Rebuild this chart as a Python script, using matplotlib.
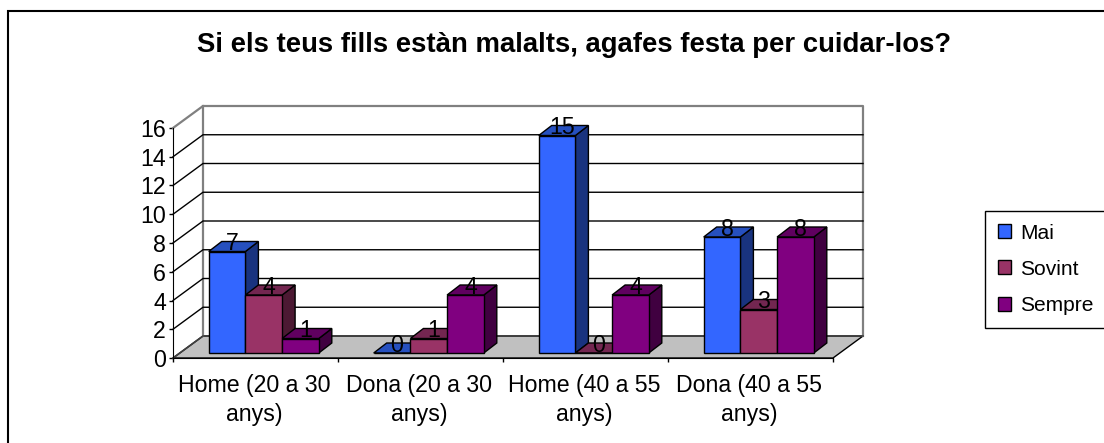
import matplotlib
matplotlib.use("Agg")
import matplotlib.pyplot as plt
from matplotlib.patches import Polygon, Rectangle, Patch

plt.rcParams['font.family'] = ['Liberation Sans', 'DejaVu Sans']

title = "Si els teus fills estàn malalts, agafes festa per cuidar-los?"
categories = ["Home (20 a 30\nanys)", "Dona (20 a 30\nanys)",
              "Home (40 a 55\nanys)", "Dona (40 a 55\nanys)"]
series_names = ["Mai", "Sovint", "Sempre"]
mai = [7, 0, 15, 8]
sovint = [4, 1, 0, 3]
sempre = [1, 4, 4, 8]
y_ticks = list(range(0, 17, 2))

colors = ["#3366ff", "#993366", "#800080"]
top_colors = ["#2650bf", "#732650", "#600060"]
side_colors = ["#19337f", "#4c1933", "#400040"]

W, H = 1104, 443
fig = plt.figure(figsize=(W / 100, H / 100), dpi=100)


def axes_px(x0, y_top, x1, y_bottom):
    return fig.add_axes([x0 / W, 1 - y_bottom / H, (x1 - x0) / W, (y_bottom - y_top) / H])


# whole figure in pixels, for the frame and the title
bg = axes_px(0, 0, W, H)
bg.set_xlim(0, W)
bg.set_ylim(H, 0)
bg.axis("off")
bg.add_patch(Rectangle((8, 11), W + 20, H + 20, fc="white", ec="black", lw=1.5))
bg.text(574, 45, title, ha="center", va="center", fontsize=19.8, fontweight="bold")

# front plane of the chart, holds the axis and tick labels
ax = axes_px(173, 128, 833, 358)
ax.set_xlim(0, 4)
ax.set_ylim(0, 16)
ax.patch.set_alpha(0)
for s in ["top", "right"]:
    ax.spines[s].set_visible(False)
ax.set_yticks(y_ticks)
ax.set_xticks(range(5))
ax.set_xticklabels([])
ax.tick_params(labelsize=16.7, length=3, width=1, pad=2)
for i, c in enumerate(categories):
    ax.text(i + 0.49, -1.08, c, ha="center", va="top", fontsize=16.7, linespacing=1.34)

DX, DY = 30 / 165, 22 / 14.375   # depth of the box, in data units
wall = "#808080"
ax.add_patch(Polygon([(0, 0), (DX, DY), (4 + DX, DY), (4, 0)], fc="#c0c0c0", ec="black", lw=1, zorder=1, clip_on=False))
ax.plot([0, DX, 4 + DX, 4 + DX], [16, 16 + DY, 16 + DY, DY], color=wall, lw=1.6, clip_on=False, zorder=2)
ax.plot([DX, DX], [DY, 16 + DY], color=wall, lw=1.6, clip_on=False, zorder=2)
ax.plot([0, DX, 4 + DX], [0, DY, DY], color="#404040", lw=1.2, clip_on=False, zorder=2)
for t in y_ticks[1:-1]:
    ax.plot([0, DX, 4 + DX], [t, t + DY, t + DY], color="black", lw=1, clip_on=False, zorder=2)

# bars sit a bit in front of the back wall, with their own slightly bigger scale
bx = axes_px(173, 353 - 16 * 14.5, 833, 353)
bx.set_xlim(0, 4)
bx.set_ylim(0, 16)
bx.axis("off")
BAR_W = 36.7 / 165
OFFSET = 35.7 / 165
BDX, BDY = 13 / 165, 10 / 14.5

for k, vals in enumerate([mai, sovint, sempre]):
    for i, v in enumerate(vals):
        x0 = i + OFFSET + k * BAR_W
        x1 = x0 + BAR_W
        z = 3 + 0.1 * i + 0.01 * k
        bx.add_patch(Polygon([(x1, 0), (x1 + BDX, BDY), (x1 + BDX, v + BDY), (x1, v)],
                             fc=side_colors[k], ec="black", lw=1, zorder=z, clip_on=False))
        bx.add_patch(Polygon([(x0, v), (x0 + BDX, v + BDY), (x1 + BDX, v + BDY), (x1, v)],
                             fc=top_colors[k], ec="black", lw=1, zorder=z, clip_on=False))
        bx.bar(x0, v, BAR_W, align="edge", color=colors[k], ec="black", lw=1, zorder=z, clip_on=False)
        bx.text(x0 + BAR_W / 2 + 5 / 165, v + 8 / 14.5, str(v), ha="center", va="center", fontsize=16.7, zorder=10)

# legend runs off the right edge of the picture in the reference
handles = [Patch(fc=c, ec="black", lw=1) for c in colors]
leg = fig.legend(handles, series_names, loc="upper left", mode="expand",
                 bbox_to_anchor=(985 / W, 1 - 325 / H, 140 / W, 114 / H),
                 fontsize=15.1, frameon=True, fancybox=False,
                 edgecolor="black", framealpha=1, borderpad=0.6, labelspacing=0.82,
                 handlelength=0.66, handleheight=0.66, handletextpad=0.42, borderaxespad=0)
leg.get_frame().set_linewidth(1)

fig.savefig("out.png", dpi=100)
